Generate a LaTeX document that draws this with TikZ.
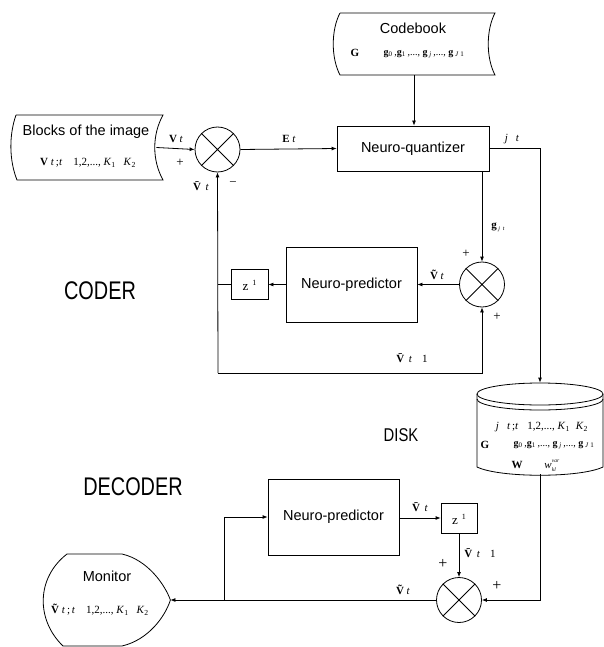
\documentclass[tikz,border=0pt]{standalone}
\usepackage{fontspec}
\usepackage{graphicx}
\setmainfont{Liberation Serif}
\newfontfamily\hv{Liberation Sans}
\usetikzlibrary{arrows.meta}
\newcommand\bVt{\textbf{V}}
\newcommand\tVt{\textbf{\~V}}
\newcommand\mVt{\textbf{\=V}}
\newcommand\ti[1]{\textit{#1}}
\newcommand\sbs[1]{\textsubscript{#1}}
\newcommand\glist{\textbf{g}\sbs{0}\,,\textbf{g}\sbs{1}\,,...,\ \textbf{g}\sbs{\ \ti{j}}\,,...,\ \textbf{g}\sbs{\ \ti{J} 1}}
\newcommand\klist{\hspace{11pt}1,2,...,\ \ti{K}\sbs{1}\hspace{8pt}\ti{K}\sbs{2}}
\begin{document}
\begin{tikzpicture}[x=1pt,y=-1pt,
  line width=0.8pt,
  arr/.style={-{Latex[length=5pt,width=4pt]}},
  box/.style={draw, rectangle, inner sep=0pt},
  ghost/.style={rectangle, inner sep=0pt},
  sumnode/.style={draw, circle, minimum size=45pt, inner sep=0pt},
  lbl/.style={font=\hv\fontsize{14.5}{16}\selectfont, inner sep=0pt},
  big/.style={font=\hv\fontsize{25.5}{28}\selectfont, inner sep=0pt},
  mid/.style={font=\hv\fontsize{18.5}{20}\selectfont, inner sep=0pt},
  mth/.style={font=\fontsize{11}{13}\selectfont, inner sep=0pt},
  sml/.style={font=\fontsize{10}{12}\selectfont, inner sep=0pt},
  tny/.style={font=\fontsize{5.5}{6}\selectfont\itshape, inner sep=0pt},
  pm/.style={font=\fontsize{13}{14}\selectfont, inner sep=0pt},
]
\useasboundingbox (0,0) rectangle (604,647);

% ---------- CODER ----------
% Codebook (stored data)
\node[ghost, minimum width=162pt, minimum height=62pt] (codebook) at (414,44) {};
\draw (340,13) -- (495,13) .. controls (486,30) and (486,58) .. (495,75)
      -- (340,75) .. controls (331,58) and (331,30) .. (340,13);
\node[lbl] (cbt) at (413,28) {Codebook};
\node[mth] (cbG) at (355,53) {\textbf{G}};
\node[sml] (cbg) at (424,54) {\glist};

% Blocks of the image
\node[ghost, minimum width=144pt, minimum height=65pt] (blocks) at (84,147.5) {};
\draw (16,115) -- (163,115) .. controls (152,135) and (152,160) .. (163,180)
      -- (17,180) .. controls (9,160) and (9,135) .. (16,115);
\node[lbl] (blt) at (86,132) {Blocks of the image};
\node[mth] (blf) at (88,163) {\bVt\ \ti{t}\,;\ti{t}\klist};

% sum 1
\node[sumnode] (s1) at (217.5,149.5) {};
\draw (s1.north west) -- (s1.south east) (s1.north east) -- (s1.south west);

% Neuro-quantizer
\node[box, minimum width=152pt, minimum height=45pt] (nq) at (413,148.5) {};
\node[lbl] (nqt) at (413,148.5) {Neuro-quantizer};

% sum 2
\node[sumnode] (s2) at (482,284.5) {};
\draw (s2.north west) -- (s2.south east) (s2.north east) -- (s2.south west);

% Neuro-predictor (coder)
\node[box, minimum width=131pt, minimum height=75pt] (np1) at (351.5,284.5) {};
\node[lbl] (np1t) at (351.5,284.5) {Neuro-predictor};

% z^-1 (coder)
\node[box, minimum width=37pt, minimum height=30pt] (z1) at (249.5,284.5) {};
\node[font=\fontsize{13}{14}\selectfont, inner sep=0pt] (z1t) at (249.5,285) {z\,\raisebox{5pt}{\fontsize{8}{9}\selectfont\ 1}};

\coordinate (j1) at (218,284.5);
\coordinate (c1) at (218,373);
\coordinate (jq) at (540,148);

% Disk
\node[ghost, minimum width=126pt, minimum height=91pt] (disk) at (540,428.5) {};
\draw (540,394) ellipse [x radius=63, y radius=11];
\draw (477,399) arc[start angle=180, end angle=0, x radius=63, y radius=11];
\draw (477,394) -- (477,467) .. controls (500,478) and (580,478) .. (603,467) -- (603,394);
\node[mth] (d1) at (542,427) {\ti{j}\hspace{8pt}\ti{t}\,;\ti{t}\hspace{9pt}1,2,...,\ \ti{K}\sbs{1}\hspace{6pt}\ti{K}\sbs{2}};
\node[mth] (d2G) at (485,445) {\textbf{G}};
\node[sml] (d2g) at (554,445) {\glist};
\node[mth] (d3W) at (517,465) {\textbf{W}};
\node[mth] (d3w) at (548,466) {\ti{w}};
\node[tny, anchor=south west] (d3var) at (551.5,462.5) {var};
\node[tny, anchor=north west] (d3kl) at (551.5,467.5) {kl};

% section labels
\node[big] (coder) at (100,291) {\scalebox{0.78}[1]{CODER}};
\node[big] (decoder) at (133,487) {\scalebox{0.78}[1]{DECODER}};
\node[mid] (disklbl) at (401,435) {\scalebox{0.8}[1]{DISK}};

% ---------- DECODER ----------
\node[box, minimum width=131pt, minimum height=76pt] (np2) at (333.5,517) {};
\node[lbl] (np2t) at (333.5,517) {Neuro-predictor};

\node[box, minimum width=36pt, minimum height=30pt] (z2) at (459,518) {};
\node[font=\fontsize{13}{14}\selectfont, inner sep=0pt] (z2t) at (459,519) {z\,\raisebox{5pt}{\fontsize{8}{9}\selectfont\ 1}};

\node[sumnode] (s3) at (459,600) {};
\draw (s3.north west) -- (s3.south east) (s3.north east) -- (s3.south west);

% Monitor (display)
\node[ghost, minimum width=127pt, minimum height=92pt] (mon) at (106.5,600) {};
\draw (67,554) -- (122,554) .. controls (148,560) and (165,585) .. (mon.east)
      .. controls (165,617) and (148,640) .. (122,646) -- (63,646)
      .. controls (36,620) and (36,578) .. (67,554);
\node[lbl] (mont) at (107,576) {Monitor};
\node[mth] (monf) at (100,610) {\tVt\ \ti{t}\,;\,\ti{t}\klist};

\coordinate (jd) at (540,600);
\coordinate (br) at (224,600);

% ---------- connectors ----------
\draw[arr] (blocks.east) -- (s1.west);
\draw[arr] (s1.east) -- (nq.west);
\draw[arr] (codebook.south) -- (codebook.south |- nq.north);
\draw[arr] (nq.east |- jq) -- (jq) -- (disk.north);
\draw[arr] (s2.north |- nq.south) -- (s2.north);
\draw[arr] (s2.west) -- (np1.east);
\draw[arr] (np1.west) -- (z1.east);
\draw (z1.west) -- (j1);
\draw[arr] (c1) -- (s1.south);
\draw[arr] (c1) -- (c1 -| s2.south) -- (s2.south);

\draw[arr] (disk.south) -- (jd) -- (s3.east);
\draw[arr] (np2.east |- z2.west) -- (z2.west);
\draw[arr] (z2.south) -- (s3.north);
\draw[arr] (s3.west) -- (mon.east);
\draw[arr] (br) -- (br |- np2.west) -- (np2.west);

% ---------- labels on connectors ----------
\node[mth] (lVt) at (176,139) {\bVt\ \ti{t}};
\node[pm] (lp1) at (180,163) {+};
\node[mth] (lmVt) at (201,186) {\mVt\ \ti{t}};
\node[pm] (lm1) at (233,184) {\textminus};
\node[mth] (lEt) at (289,139) {\textbf{E}\ \ti{t}};
\node[mth] (ljt) at (512,139) {\ti{j}\hspace{8pt}\ti{t}};
\node[mth] (lgj) at (498,227) {\textbf{g}\raisebox{-2pt}{\fontsize{6}{7}\selectfont\ \ti{j}\ \ \ti{t}}};
\node[pm] (lp2) at (466,254) {+};
\node[pm] (lp3) at (497,317) {+};
\node[mth] (ltV1) at (437,275) {\tVt\ \ti{t}};
\node[mth] (lmV1) at (412,358) {\mVt\ \ti{t}\hspace{10pt}1};

\node[mth] (lmV2) at (420,507) {\mVt\ \ti{t}};
\node[mth] (lmV3) at (480,553) {\mVt\ \ti{t}\hspace{10pt}1};
\node[pm] (lp4) at (443,564) {\fontsize{16}{17}\selectfont +};
\node[pm] (lp5) at (497,586) {\fontsize{16}{17}\selectfont +};
\node[mth] (ltV2) at (403,590) {\tVt\ \ti{t}};
\end{tikzpicture}
\end{document}
